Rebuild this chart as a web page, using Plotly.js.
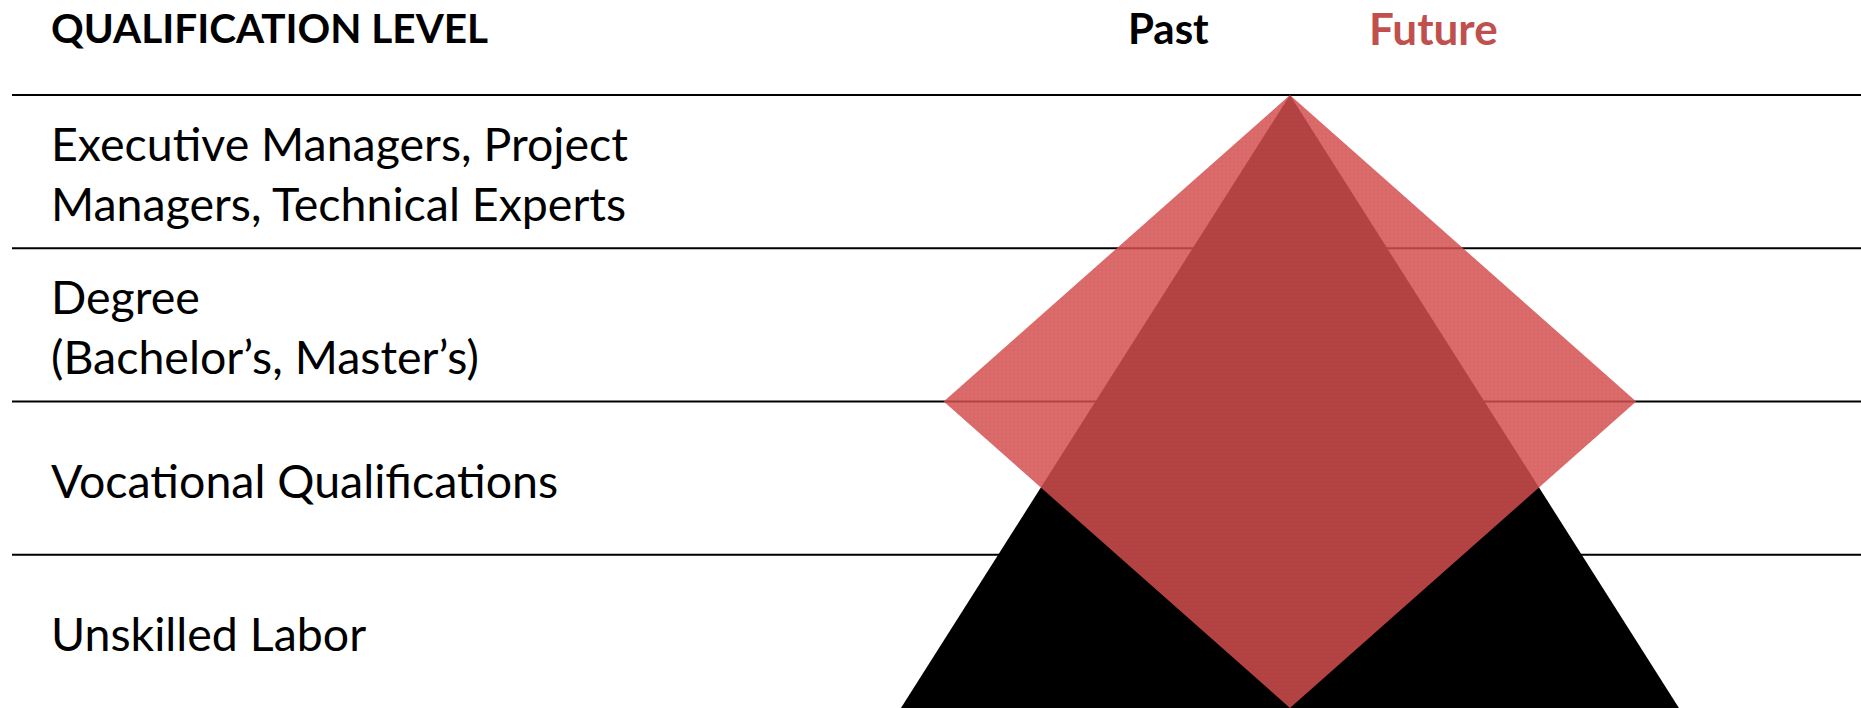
<!DOCTYPE html>
<html>
<head>
<meta charset="utf-8">
<script src="https://cdn.plot.ly/plotly-3.0.1.min.js"></script>
<style>
  html, body { margin: 0; padding: 0; background: #ffffff; }
  #chart { width: 1861px; height: 708px; }
</style>
</head>
<body>
<div id="chart"></div>
<script>
// ---- data ----
const headerLabel = "QUALIFICATION LEVEL";
const seriesNames = ["Past", "Future"];
const levels = [
  "Executive Managers, Project<br>Managers, Technical Experts",
  "Degree<br>(Bachelor’s, Master’s)",
  "Vocational Qualifications",
  "Unskilled Labor"
];
// half-widths of each shape at the level boundaries (top boundary 0 ... bottom boundary 4)
const boundaries = [0, 1, 2, 3, 4];
const pastWidth = [0, 25, 50, 75, 100];
const futureWidth = [0, 44.5, 89, 44.5, 0];

// ---- helpers ----
function outline(widths) {
  const xs = [], ys = [];
  for (let i = 0; i < boundaries.length; i++) { xs.push(-widths[i]); ys.push(boundaries[i]); }
  for (let i = boundaries.length - 1; i >= 0; i--) { xs.push(widths[i]); ys.push(boundaries[i]); }
  return {xs, ys};
}

const past = outline(pastWidth);
const future = outline(futureWidth);

const FONT = "Lato, 'Open Sans', sans-serif";
const RED = "#C0504D";

const traces = [
  {
    type: "scatter", mode: "lines", name: seriesNames[0],
    x: past.xs, y: past.ys, fill: "toself",
    fillcolor: "#000000", line: {width: 0, color: "#000000"},
    hoverinfo: "skip", showlegend: false
  },
  {
    type: "scatter", mode: "lines", name: seriesNames[1],
    x: future.xs, y: future.ys, fill: "toself",
    fillcolor: "rgba(215,80,80,0.84)", line: {width: 0, color: "rgba(0,0,0,0)"},
    fillpattern: {shape: "+", size: 4, solidity: 0.25, fgcolor: "rgba(140,40,40,0.35)", fillmode: "overlay"},
    hoverinfo: "skip", showlegend: false
  }
];

const shapes = [];
for (let i = 0; i < levels.length; i++) {
  shapes.push({
    type: "line", layer: "below",
    xref: "paper", x0: 12 / 1861, x1: 1,
    yref: "y", y0: boundaries[i], y1: boundaries[i],
    line: {color: "#000000", width: 2}
  });
}

const annotations = [];
annotations.push({
  text: "<b>" + headerLabel + "</b>", xref: "paper", yref: "paper",
  x: 48.5 / 1861, y: 1 - 28 / 708, xanchor: "left", yanchor: "middle",
  showarrow: false, font: {family: FONT, size: 40.5, color: "#000000"}
});
annotations.push({
  text: "<b>" + seriesNames[0] + "</b>", xref: "paper", yref: "paper",
  x: 1168 / 1861, y: 1 - 28 / 708, xanchor: "center", yanchor: "middle",
  showarrow: false, font: {family: FONT, size: 42, color: "#000000"}
});
annotations.push({
  text: "<b>" + seriesNames[1] + "</b>", xref: "paper", yref: "paper",
  x: 1433 / 1861, y: 1 - 28 / 708, xanchor: "center", yanchor: "middle",
  showarrow: false, font: {family: FONT, size: 44, color: RED}
});
levels.forEach((lab, i) => {
  annotations.push({
    text: lab, xref: "paper", yref: "y",
    x: 48.5 / 1861, y: boundaries[i] + 0.51, xanchor: "left", yanchor: "middle", align: "left",
    showarrow: false, font: {family: FONT, size: 46.5, color: "#000000"}
  });
});

const layout = {
  width: 1861, height: 708,
  margin: {l: 0, r: 0, t: 0, b: 0, pad: 0},
  paper_bgcolor: "#ffffff", plot_bgcolor: "#ffffff",
  showlegend: false,
  xaxis: {range: [-331.6, 146.8], visible: false, fixedrange: true},
  yaxis: {range: [4, -0.62], visible: false, fixedrange: true},
  shapes: shapes,
  annotations: annotations
};

Plotly.newPlot("chart", traces, layout, {staticPlot: true, displayModeBar: false});
</script>
</body>
</html>
